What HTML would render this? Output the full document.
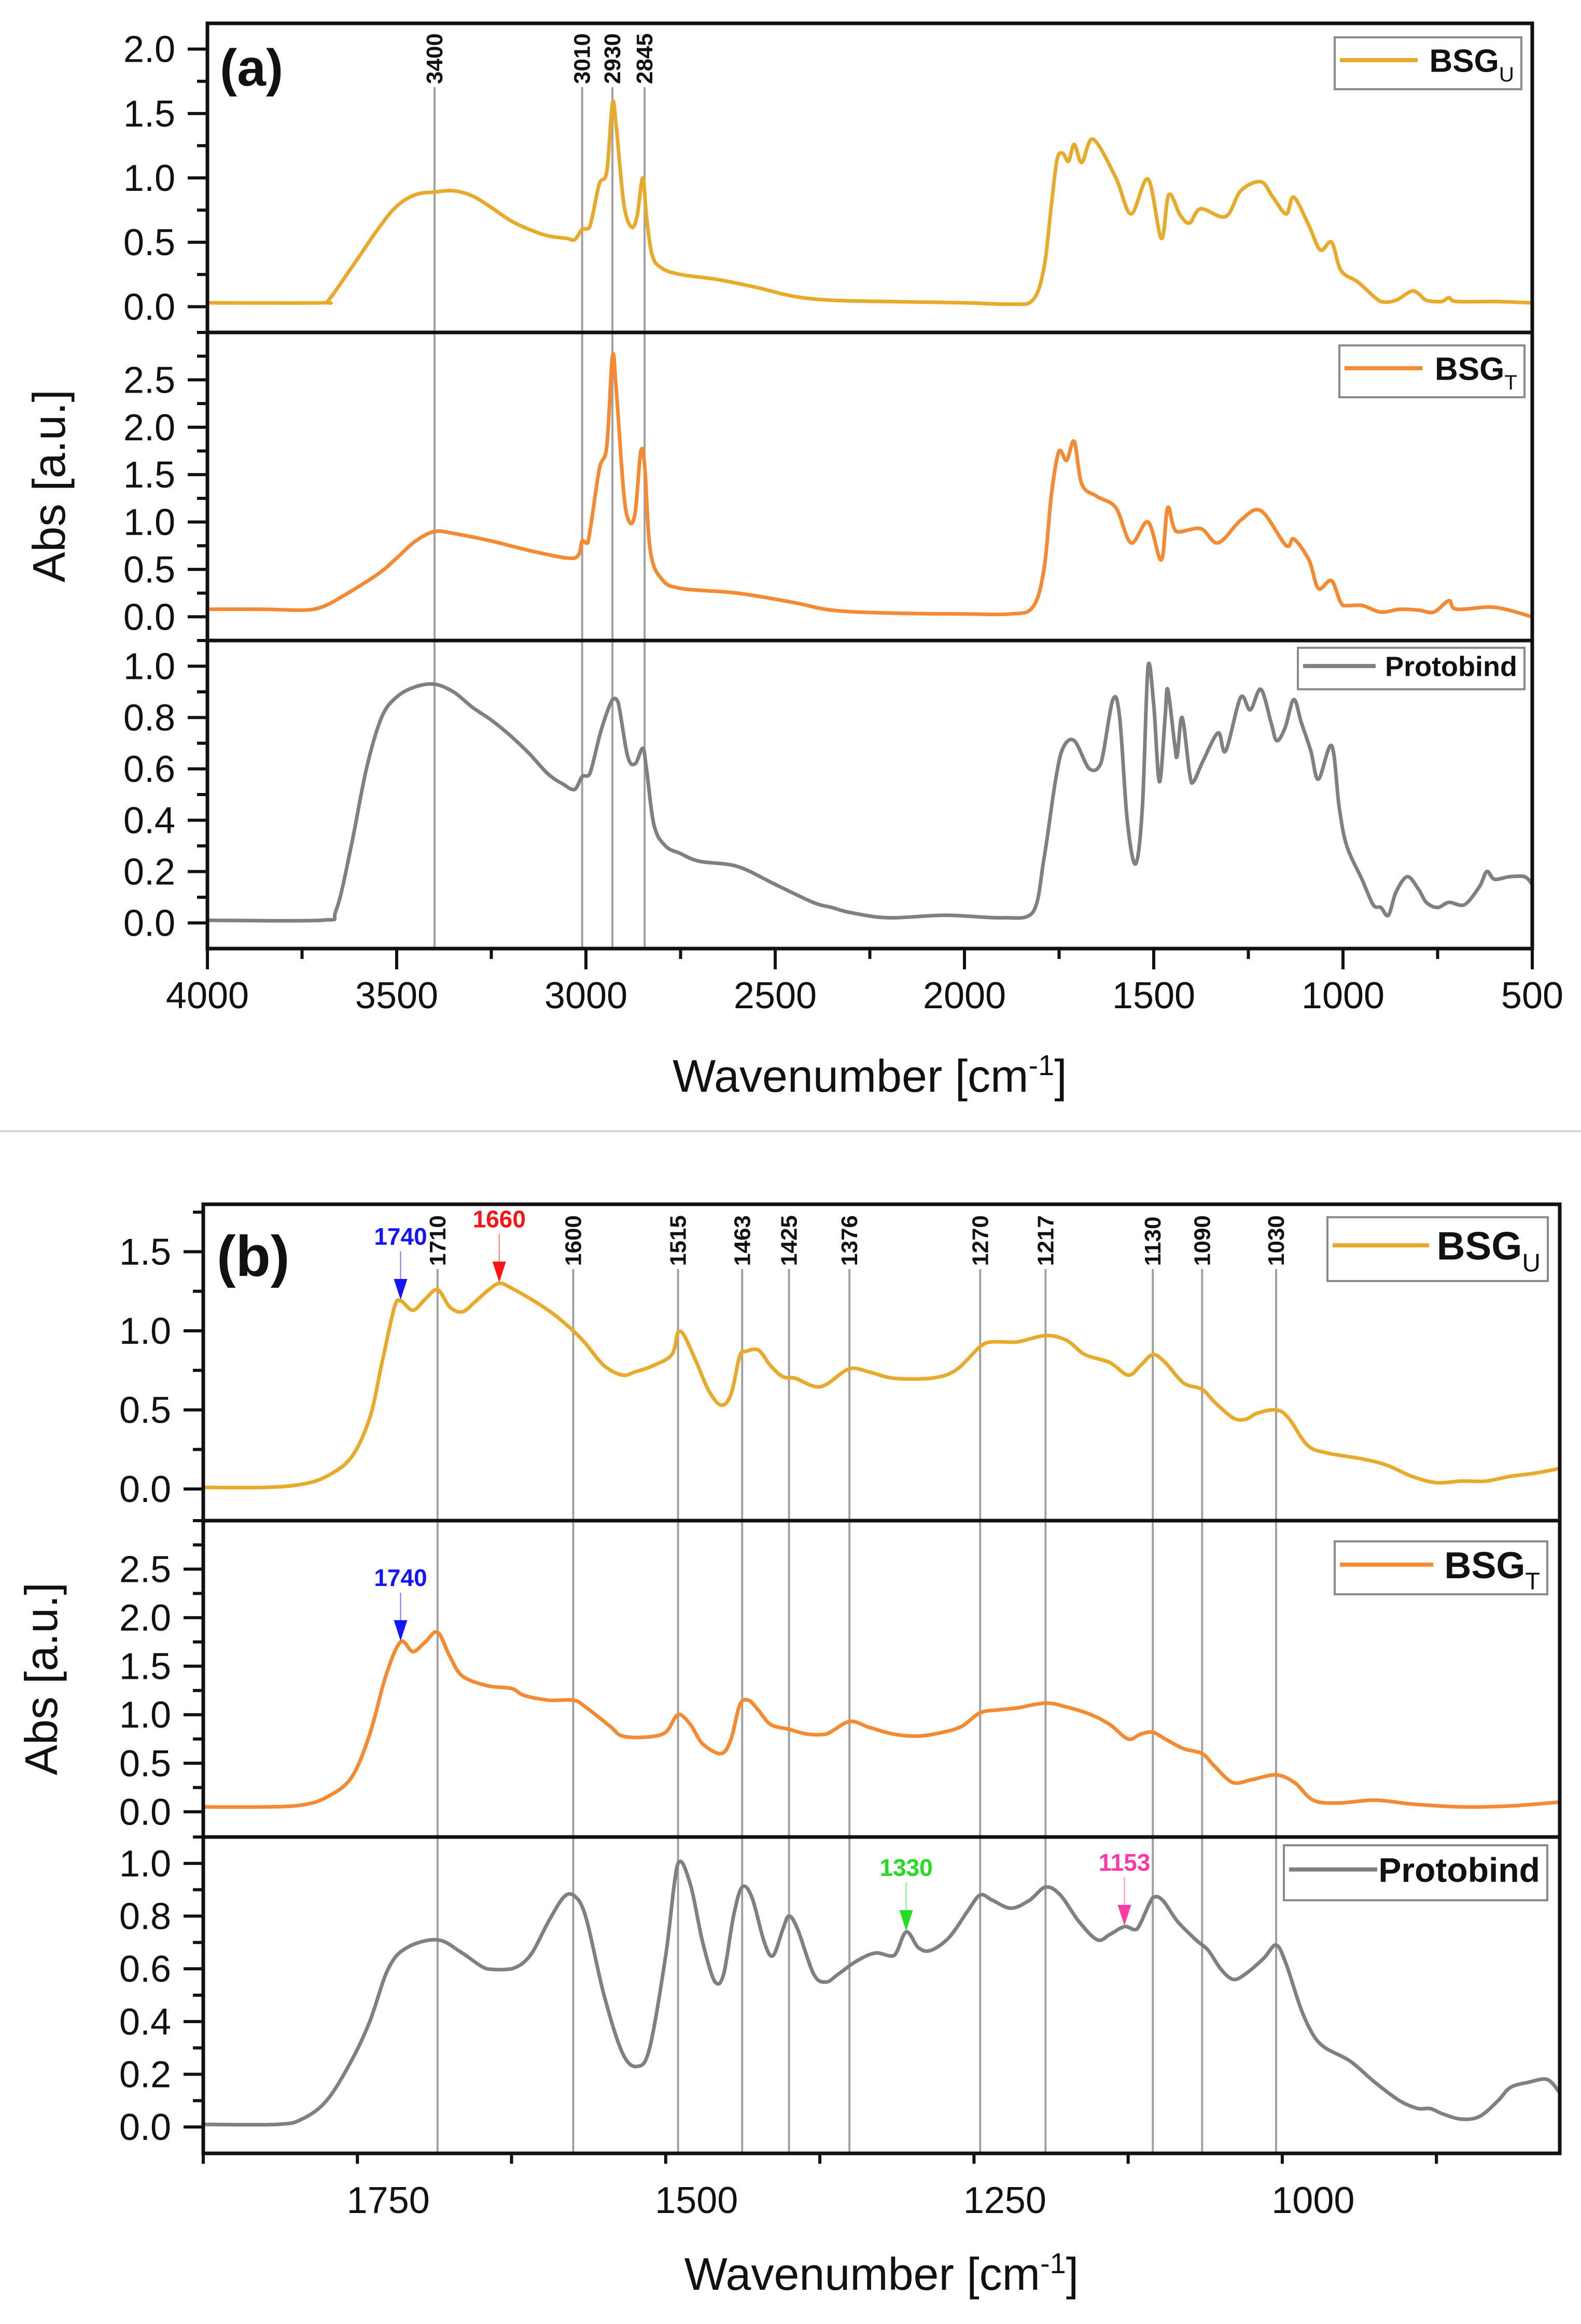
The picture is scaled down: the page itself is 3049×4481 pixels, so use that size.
<!DOCTYPE html>
<html><head><meta charset="utf-8"><style>
html,body{margin:0;padding:0;background:#fff;}
svg{display:block;font-family:"Liberation Sans",Arial,sans-serif;}
</style></head><body>
<svg id="fig" width="3049" height="4481" viewBox="0 0 3049 4481" xmlns="http://www.w3.org/2000/svg">
<rect x="0" y="0" width="3049" height="4481" fill="#fff"/>
<line x1="0" y1="2181" x2="3049" y2="2181" stroke="#c8c8c8" stroke-width="3"/>
</svg>
<script>
// ===== Panel (a) data =====
const aUx=[4000,3700,3680,3620,3550,3500,3450,3400,3350,3300,3250,3200,3150,3100,3050,3030,3010,2990,2965,2945,2930,2920,2900,2880,2865,2850,2840,2825,2800,2750,2650,2550,2450,2350,2200,2000,1880,1820,1790,1770,1755,1740,1725,1710,1690,1660,1600,1560,1515,1480,1460,1430,1405,1376,1310,1270,1217,1185,1150,1130,1090,1060,1030,1005,960,900,860,820,800,780,740,720,700,600,500];
const aUy=[0.03,0.03,0.05,0.3,0.6,0.78,0.87,0.89,0.9,0.86,0.77,0.67,0.6,0.55,0.53,0.52,0.6,0.62,0.95,1.05,1.58,1.4,0.8,0.62,0.7,1.0,0.7,0.4,0.3,0.25,0.21,0.15,0.08,0.05,0.04,0.03,0.02,0.05,0.3,0.8,1.15,1.19,1.13,1.26,1.12,1.3,1.0,0.72,0.99,0.53,0.87,0.71,0.65,0.76,0.7,0.9,0.97,0.85,0.72,0.85,0.63,0.44,0.5,0.28,0.19,0.04,0.05,0.12,0.1,0.05,0.04,0.07,0.04,0.04,0.03];
const aTx=[4000,3850,3750,3700,3650,3550,3500,3450,3400,3350,3250,3150,3050,3020,3010,2995,2965,2945,2930,2920,2900,2885,2870,2855,2845,2830,2800,2750,2600,2450,2350,2200,2000,1880,1820,1790,1770,1750,1730,1710,1690,1650,1600,1560,1515,1480,1463,1440,1376,1330,1270,1217,1150,1130,1090,1065,1030,1000,950,900,850,800,760,720,700,600,500];
const aTy=[0.08,0.08,0.07,0.1,0.2,0.45,0.62,0.8,0.9,0.88,0.8,0.7,0.62,0.65,0.8,0.78,1.55,1.8,2.75,2.4,1.3,1.0,1.1,1.75,1.6,0.7,0.4,0.3,0.25,0.15,0.07,0.04,0.03,0.03,0.1,0.5,1.3,1.75,1.65,1.85,1.4,1.27,1.15,0.78,1.0,0.6,1.15,0.9,0.93,0.78,1.02,1.12,0.75,0.82,0.6,0.3,0.38,0.12,0.12,0.05,0.08,0.07,0.05,0.17,0.08,0.1,0.0];
const aPx=[4000,3700,3660,3620,3580,3540,3500,3450,3400,3350,3300,3250,3200,3150,3100,3060,3030,3010,2990,2960,2930,2915,2890,2870,2850,2840,2820,2790,2750,2700,2600,2500,2400,2350,2300,2200,2050,1900,1820,1790,1760,1740,1710,1670,1640,1608,1590,1570,1548,1530,1515,1500,1485,1470,1463,1445,1438,1425,1405,1395,1370,1330,1310,1270,1245,1217,1190,1175,1153,1130,1110,1085,1065,1030,1010,990,950,920,900,880,860,830,800,780,750,720,680,640,620,600,560,520,500];
const aPy=[0.01,0.01,0.05,0.3,0.6,0.8,0.88,0.92,0.93,0.9,0.84,0.79,0.73,0.66,0.58,0.54,0.52,0.57,0.58,0.75,0.87,0.86,0.65,0.62,0.68,0.6,0.38,0.3,0.27,0.24,0.22,0.15,0.08,0.06,0.04,0.02,0.03,0.02,0.04,0.25,0.55,0.68,0.71,0.6,0.62,0.87,0.8,0.4,0.23,0.45,1.0,0.85,0.55,0.8,0.91,0.7,0.65,0.8,0.58,0.55,0.63,0.74,0.67,0.88,0.83,0.91,0.78,0.71,0.76,0.87,0.78,0.67,0.56,0.69,0.45,0.3,0.17,0.07,0.06,0.03,0.12,0.18,0.13,0.08,0.06,0.08,0.07,0.14,0.2,0.17,0.18,0.18,0.15];
const aMarks=[3400,3010,2930,2845];
const aXTicks=[4000,3500,3000,2500,2000,1500,1000,500];

// ===== Panel (b) data =====
const bUx=[1900,1850,1820,1800,1780,1765,1755,1745,1740,1730,1720,1710,1700,1690,1680,1670,1660,1650,1630,1615,1600,1590,1575,1560,1550,1535,1520,1515,1510,1500,1490,1480,1472,1465,1460,1450,1440,1430,1420,1405,1395,1376,1360,1340,1310,1290,1270,1260,1240,1217,1200,1185,1165,1150,1140,1130,1120,1105,1090,1080,1065,1055,1045,1030,1020,1005,990,960,940,920,900,880,860,840,820,800];
const bUy=[0.01,0.01,0.03,0.08,0.2,0.45,0.8,1.15,1.19,1.13,1.2,1.26,1.15,1.12,1.18,1.25,1.3,1.27,1.18,1.1,1.0,0.92,0.78,0.72,0.74,0.78,0.85,0.99,0.97,0.8,0.62,0.53,0.6,0.84,0.87,0.88,0.78,0.71,0.7,0.65,0.66,0.76,0.74,0.7,0.7,0.75,0.9,0.93,0.93,0.97,0.94,0.85,0.8,0.72,0.78,0.85,0.8,0.67,0.63,0.55,0.45,0.44,0.48,0.5,0.45,0.28,0.23,0.19,0.15,0.08,0.04,0.05,0.05,0.08,0.1,0.13];
const bTx=[1900,1850,1820,1800,1780,1765,1752,1740,1730,1720,1710,1700,1690,1670,1650,1640,1620,1600,1590,1570,1560,1540,1525,1515,1505,1495,1480,1472,1465,1458,1450,1440,1425,1410,1395,1376,1360,1340,1320,1300,1285,1270,1255,1240,1217,1200,1180,1165,1150,1140,1130,1120,1105,1090,1080,1065,1050,1030,1015,1000,980,950,920,880,840,800];
const bTy=[0.05,0.05,0.07,0.15,0.35,0.8,1.4,1.75,1.65,1.75,1.85,1.6,1.4,1.3,1.27,1.2,1.15,1.15,1.08,0.88,0.78,0.77,0.82,1.0,0.9,0.7,0.6,0.75,1.1,1.15,1.05,0.9,0.85,0.8,0.8,0.93,0.87,0.8,0.78,0.82,0.88,1.02,1.05,1.07,1.12,1.08,1.0,0.9,0.75,0.8,0.82,0.75,0.65,0.6,0.47,0.3,0.33,0.38,0.3,0.12,0.09,0.12,0.08,0.05,0.06,0.1];
const bPx=[1900,1840,1820,1800,1780,1765,1750,1735,1710,1690,1670,1650,1635,1620,1608,1600,1590,1575,1560,1548,1538,1525,1515,1505,1495,1485,1478,1470,1463,1455,1445,1438,1430,1425,1418,1405,1395,1385,1370,1355,1340,1330,1320,1310,1295,1280,1270,1260,1245,1230,1217,1205,1190,1175,1165,1153,1143,1130,1122,1110,1095,1085,1075,1065,1055,1040,1030,1022,1010,1000,990,970,950,930,915,905,895,880,865,850,840,825,810,800];
const bPy=[0.01,0.01,0.03,0.1,0.25,0.4,0.6,0.68,0.71,0.66,0.6,0.6,0.65,0.78,0.87,0.88,0.8,0.5,0.28,0.23,0.3,0.65,1.0,0.92,0.7,0.55,0.58,0.8,0.91,0.87,0.7,0.65,0.75,0.8,0.75,0.58,0.55,0.58,0.63,0.66,0.65,0.74,0.68,0.67,0.72,0.82,0.88,0.86,0.83,0.86,0.91,0.88,0.78,0.71,0.73,0.76,0.75,0.87,0.86,0.78,0.71,0.67,0.6,0.56,0.58,0.64,0.69,0.62,0.45,0.35,0.3,0.25,0.17,0.1,0.07,0.07,0.05,0.03,0.04,0.1,0.15,0.17,0.18,0.13];
const bMarks=[1710,1600,1515,1463,1425,1376,1270,1217,1130,1090,1030];
const bXTicks=[1750,1500,1250,1000];
const bArrowsTop=[[1740,"#1414ff"],[1660,"#ff1414"]];
const bArrowsMid=[[1740,"#1414ff"]];
const bArrowsBot=[[1330,"#22dd22"],[1153,"#ff3aa8"]];

const NS="http://www.w3.org/2000/svg";
const svg=document.getElementById('fig');
function mk(tag,attrs,parent){const e=document.createElementNS(NS,tag);for(const k in attrs)e.setAttribute(k,attrs[k]);(parent||svg).appendChild(e);return e;}
function interp(xs,ys,w){for(let i=0;i<xs.length-1;i++){const a=xs[i],b=xs[i+1];if((w<=a&&w>=b)){const t=(a-w)/(a-b);return ys[i]+t*(ys[i+1]-ys[i]);}}return ys[ys.length-1];}
function smoothPath(pts){
  let d='M'+pts[0][0].toFixed(1)+','+pts[0][1].toFixed(1);
  for(let i=0;i<pts.length-1;i++){
    const p0=pts[Math.max(0,i-1)],p1=pts[i],p2=pts[i+1],p3=pts[Math.min(pts.length-1,i+2)];
    const lo=Math.min(p1[1],p2[1]),hi=Math.max(p1[1],p2[1]);
    let c1y=p1[1]+(p2[1]-p0[1])/6, c2y=p2[1]-(p3[1]-p1[1])/6;
    const pad=(hi-lo)*0.3+2;
    c1y=Math.max(lo-pad,Math.min(hi+pad,c1y));c2y=Math.max(lo-pad,Math.min(hi+pad,c2y));
    const c1x=p1[0]+(p2[0]-p0[0])/6,c2x=p2[0]-(p3[0]-p1[0])/6;
    d+='C'+c1x.toFixed(1)+','+c1y.toFixed(1)+' '+c2x.toFixed(1)+','+c2y.toFixed(1)+' '+p2[0].toFixed(1)+','+p2[1].toFixed(1);
  }
  return d;
}

function panel(cfg){
  const L=cfg.left,R=cfg.right;
  const X=w=>L+(cfg.x0-w)/(cfg.x0-cfg.x1)*(R-L);
  const g=mk('g',{});
  
  
  cfg.marks.forEach(m=>{
    const x=X(m);
    const ln=mk('line',{x1:x,y1:cfg.markTop,x2:x,y2:cfg.subs[2].bottom,stroke:'#a0a0a0','stroke-width':4},g);
    
    
    const t=mk('text',{x:0,y:0,transform:`translate(${x+15},${cfg.markTop-6}) rotate(-90)`,'font-size':cfg.markFont,'font-weight':'bold',fill:'#111'},g);
    t.textContent=m;
    
    
  });
  cfg.subs.forEach((s,si)=>{
    const Y=v=>s.bottom-(v-s.y0)/(s.y1-s.y0)*(s.bottom-s.top);
    const pts=s.xs.map((w,i)=>[X(w),Y(s.ys[i])]);
    const p=mk('path',{d:smoothPath(pts),fill:'none',stroke:s.color,'stroke-width':7,'stroke-linejoin':'round','stroke-linecap':'round'},g);
    
    
    for(let v=s.minorStart;v<=s.y1+1e-9;v+=s.minor){
      const vv=Math.round(v*1000)/1000;
      if(vv<s.y0)continue;
      const isMajor=Math.abs(vv/s.major-Math.round(vv/s.major))<1e-6 && vv>=0 && vv<=s.maxLabel+1e-9;
      const y=Y(vv);
      const tk=mk('line',{x1:L-(isMajor?38:20),y1:y,x2:L,y2:y,stroke:'#111','stroke-width':6},g);
      
      
      if(isMajor){
        const t=mk('text',{x:L-62,y:y+25,'text-anchor':'end','font-size':72,fill:'#111'},g);
        t.textContent=vv.toFixed(1);
        
        
      }
    }
    const fr=mk('rect',{x:L,y:s.top,width:R-L,height:s.bottom-s.top,fill:'none',stroke:'#111','stroke-width':7},g);
    
    
    const lg=s.legend;
    const lr=mk('rect',{x:lg.x,y:lg.y,width:lg.w,height:lg.h,fill:'#fff',stroke:'#8a8a8a','stroke-width':4},g);
    
    
    const ll=mk('line',{x1:lg.x+10,y1:lg.y+lg.h*0.44,x2:lg.x+10+lg.lineLen,y2:lg.y+lg.h*0.44,stroke:s.color,'stroke-width':8},g);
    
    
    const lt=mk('text',{x:lg.x+lg.w-14,y:lg.y+lg.h*0.44+lg.fs*0.36,'text-anchor':'end','font-size':lg.fs,'font-weight':'bold',fill:'#111'},g);
    
    
    if(s.sub){
      const t1=mk('tspan',{},lt);t1.textContent='BSG';
      const t2=mk('tspan',{dy:lg.fs*0.3,'font-size':lg.fs*0.65,'font-weight':'normal'},lt);t2.textContent=s.sub;
    } else lt.textContent=s.label;
    (s.arrows||[]).forEach(a=>{
      const x=X(a[0]);const tip=Y(interp(s.xs,s.ys,a[0]));
      const ag=mk('g',{},g);
      
      
      mk('line',{x1:x,y1:tip-95,x2:x,y2:tip-30,stroke:a[1],'stroke-width':2,'stroke-opacity':0.6},ag);
      mk('polygon',{points:`${x-13},${tip-42} ${x+13},${tip-42} ${x},${tip-2}`,fill:a[1]},ag);
      const t=mk('text',{x:x,y:tip-108,'text-anchor':'middle','font-size':46,'font-weight':'bold',fill:a[1]},ag);
      t.textContent=a[0];
    });
  });
  const last=cfg.subs[2].bottom;
  for(let w=cfg.x0;w>=cfg.x1-1e-9;w-=cfg.minorStep){
    const isMajor=cfg.xTicks.includes(w);
    const x=X(w);
    const tk=mk('line',{x1:x,y1:last,x2:x,y2:last+(isMajor?40:20),stroke:'#111','stroke-width':6},g);
    
    
  }
  cfg.xTicks.forEach(w=>{
    const t=mk('text',{x:X(w),y:last+115,'text-anchor':'middle','font-size':72,fill:'#111'},g);
    t.textContent=w;
    
    
  });
  const xt=mk('text',{x:(L+R)/2,y:cfg.xTitleY,'text-anchor':'middle','font-size':88,fill:'#111'},g);
  
  
  const s1=mk('tspan',{},xt);s1.textContent='Wavenumber [cm';
  const s2=mk('tspan',{dy:-32,'font-size':56},xt);s2.textContent='-1';
  const s3=mk('tspan',{dy:32},xt);s3.textContent=']';
  const yc=(cfg.subs[0].top+cfg.subs[2].bottom)/2;
  const yt=mk('text',{x:0,y:0,transform:`translate(${cfg.yTitleX},${yc}) rotate(-90)`,'text-anchor':'middle','font-size':88,fill:'#111'},g);
  yt.textContent='Abs [a.u.]';
  
  
  const pl=mk('text',{x:cfg.letter.x,y:cfg.letter.y,'font-size':cfg.letter.fs,'font-weight':'bold',fill:'#111'},g);
  pl.textContent=cfg.letter.t;
  
  
}

panel({name:'panel-a',left:400,right:2955,x0:4000,x1:500,minorStep:250,xTicks:aXTicks,marks:aMarks,markTop:168,markFont:44,
  xTitleY:2105,yTitleX:125,letter:{x:424,y:165,fs:100,t:'(a)'},
  subs:[
   {key:'bsgu-a',top:45,bottom:641,y0:-0.2,y1:2.2,major:0.5,minor:0.25,minorStart:0,maxLabel:2.0,xs:aUx,ys:aUy,color:'#e8aa2a',sub:'U',
    legend:{x:2574,y:72,w:360,h:100,lineLen:150,fs:62}},
   {key:'bsgt-a',top:641,bottom:1235,y0:-0.25,y1:3.0,major:0.5,minor:0.25,minorStart:0,maxLabel:2.5,xs:aTx,ys:aTy,color:'#f68a32',sub:'T',
    legend:{x:2583,y:666,w:357,h:100,lineLen:150,fs:62}},
   {key:'protobind-a',top:1235,bottom:1829,y0:-0.1,y1:1.1,major:0.2,minor:0.1,minorStart:0,maxLabel:1.0,xs:aPx,ys:aPy,color:'#808080',label:'Protobind',
    legend:{x:2503,y:1249,w:437,h:80,lineLen:140,fs:54}}
  ]});

panel({name:'panel-b',left:392,right:3008,x0:1900,x1:800,minorStep:125,xTicks:bXTicks,marks:bMarks,markTop:2447,markFont:44,
  xTitleY:4415,yTitleX:110,letter:{x:418,y:2460,fs:110,t:'(b)'},
  subs:[
   {key:'bsgu-b',top:2322,bottom:2932,y0:-0.2,y1:1.8,major:0.5,minor:0.25,minorStart:0,maxLabel:1.5,xs:bUx,ys:bUy,color:'#e8aa2a',sub:'U',arrows:bArrowsTop,
    legend:{x:2560,y:2347,w:425,h:123,lineLen:186,fs:76}},
   {key:'bsgt-b',top:2932,bottom:3542,y0:-0.26,y1:3.0,major:0.5,minor:0.25,minorStart:0,maxLabel:2.5,xs:bTx,ys:bTy,color:'#f68a32',sub:'T',arrows:bArrowsMid,
    legend:{x:2574,y:2972,w:410,h:102,lineLen:180,fs:72}},
   {key:'protobind-b',top:3542,bottom:4152,y0:-0.1,y1:1.1,major:0.2,minor:0.1,minorStart:0,maxLabel:1.0,xs:bPx,ys:bPy,color:'#808080',label:'Protobind',arrows:bArrowsBot,
    legend:{x:2476,y:3558,w:508,h:106,lineLen:170,fs:66}}
  ]});
</script>
</body></html>
